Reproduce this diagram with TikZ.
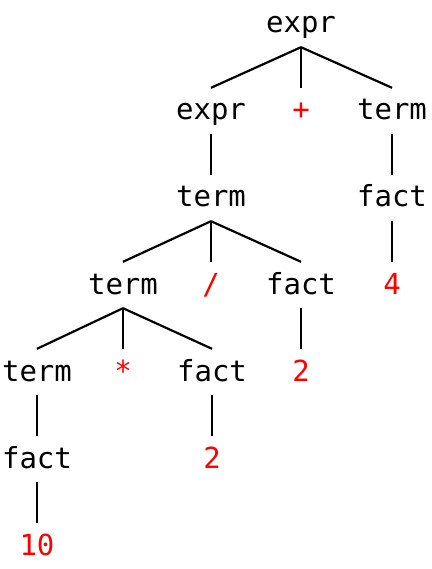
\documentclass[tikz,border=0pt]{standalone}
\usepackage{fontspec}
\setmonofont{DejaVu Sans Mono}
\begin{document}
\begin{tikzpicture}[x=1pt,y=-1pt,
  sym/.style={anchor=base,inner sep=0pt,text height=32pt,text depth=14pt,
    font=\ttfamily\fontsize{29}{30}\selectfont},
  nt/.style={sym,text=black},
  tok/.style={sym,text=red},
  edge/.style={draw=black,line width=2.2pt}]
\useasboundingbox (0,0) rectangle (431,569);
% parse tree nodes, placed on their baselines
\node[nt]  (e1) at (301,33)  {expr};
\node[nt]  (e2) at (211,120) {expr};
\node[tok] (pl) at (301,120) {+};
\node[nt]  (t1) at (392,120) {term};
\node[nt]  (t2) at (211,207) {term};
\node[nt]  (f1) at (392,207) {fact};
\node[nt]  (t3) at (123,294) {term};
\node[tok] (dv) at (211,294) {/};
\node[nt]  (f2) at (301,294) {fact};
\node[tok] (n4) at (392,294) {4};
\node[nt]  (t4) at (37,381)  {term};
\node[tok] (ml) at (123,381) {*};
\node[nt]  (f3) at (212,381) {fact};
\node[tok] (n2a) at (301,381) {2};
\node[nt]  (f4) at (37,468)  {fact};
\node[tok] (n2b) at (212,468) {2};
\node[tok] (n10) at (37,555) {10};
% tree edges
\foreach \p/\c in {e1/e2,e1/pl,e1/t1,e2/t2,t1/f1,t2/t3,t2/dv,t2/f2,f1/n4,
                   t3/t4,t3/ml,t3/f3,f2/n2a,t4/f4,f3/n2b,f4/n10}
  \draw[edge] (\p.south) -- (\c.north);
\end{tikzpicture}
\end{document}
